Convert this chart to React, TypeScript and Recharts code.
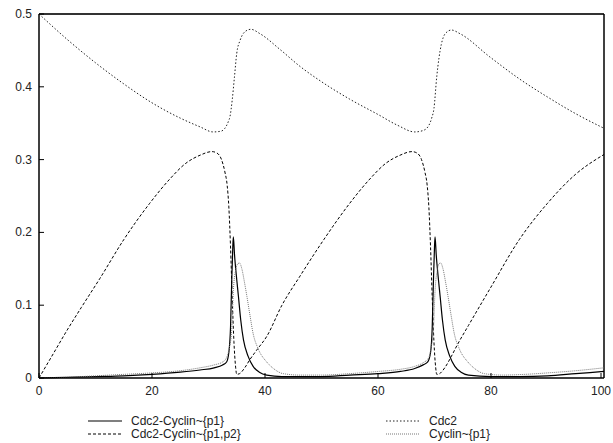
import React from "react";
import { LineChart, Line, XAxis, YAxis, ReferenceLine } from "recharts";

// time points and values
const pp1Time = [
  0, 5, 10, 15, 20, 25, 28.5, 31, 32.5, 33.2, 33.6, 33.9, 34.1, 34.3, 34.4, 34.6, 35.0, 35.3, 35.7, 36.2, 37,
  37.9, 39, 40.3, 43, 46, 50, 55, 60, 64, 66.5, 68, 68.8, 69.3, 69.6, 69.8, 70.0, 70.1, 70.3, 70.7, 71.0,
  71.4, 71.9, 72.7, 73.6, 74.7, 76, 80, 85, 90, 95, 100,
];
const pp1Values = [
  0, 0.001, 0.002, 0.003, 0.005, 0.008, 0.011, 0.014, 0.018, 0.022, 0.035, 0.07, 0.13, 0.18, 0.194, 0.17,
  0.135, 0.112, 0.08, 0.052, 0.03, 0.016, 0.008, 0.004, 0.002, 0.002, 0.002, 0.004, 0.006, 0.009, 0.013,
  0.018, 0.022, 0.035, 0.07, 0.13, 0.18, 0.194, 0.17, 0.135, 0.112, 0.08, 0.052, 0.03, 0.016, 0.008, 0.004,
  0.002, 0.002, 0.003, 0.006, 0.009,
];

const pp12Time = [
  0, 2.5, 5, 7.5, 10.8, 15, 19.6, 23, 26, 28.5, 30.6, 31.5, 32.3, 32.9, 33.3, 33.6, 33.9, 34.2, 34.5, 34.8,
  35.0, 35.5, 36.5, 37.3, 38.5, 40.3, 43, 46.2, 50.4, 55, 58.4, 61.4, 63.9, 66.0, 66.9, 67.7, 68.3, 68.7,
  69.0, 69.3, 69.6, 69.9, 70.2, 70.4, 70.9, 71.9, 73, 74, 76, 80, 85, 90, 95, 100,
];
const pp12Values = [
  0, 0.033, 0.066, 0.097, 0.137, 0.19, 0.24, 0.272, 0.295, 0.306, 0.311, 0.309, 0.3, 0.283, 0.265, 0.235,
  0.18, 0.11, 0.05, 0.015, 0.005, 0.006, 0.015, 0.025, 0.038, 0.057, 0.1, 0.14, 0.19, 0.24, 0.272, 0.295,
  0.306, 0.311, 0.309, 0.3, 0.283, 0.265, 0.235, 0.18, 0.11, 0.05, 0.015, 0.005, 0.006, 0.015, 0.03, 0.045,
  0.072, 0.125, 0.19, 0.24, 0.28, 0.307,
];

const cdc2Time = [
  0, 5, 10, 15, 20, 25, 28.5, 30.8, 32.2, 32.9, 33.5, 33.8, 34.2, 34.6, 35.0, 35.6, 36.5, 37.5, 39.1,
  42.7, 46.2, 50, 55, 60, 63.5, 66.5, 68, 69, 69.5, 69.9, 70.4, 70.8, 71.2, 71.9, 73.0, 74.5, 79.8, 85, 90,
  95, 100,
];
const cdc2Values = [
  0.5, 0.465, 0.433, 0.404, 0.378, 0.357, 0.345, 0.338, 0.339, 0.343, 0.352, 0.359, 0.382, 0.414, 0.446,
  0.464, 0.476, 0.479, 0.473, 0.451, 0.428, 0.407, 0.383, 0.362, 0.347, 0.338, 0.34, 0.347, 0.357, 0.37,
  0.414, 0.44, 0.458, 0.473, 0.478, 0.473, 0.441, 0.411, 0.386, 0.363, 0.343,
];

const cyclinTime = [
  0, 5, 10, 15, 20, 25, 28.5, 31, 32.5, 33.2, 33.7, 34.1, 34.4, 34.8, 35.2, 35.5, 35.9, 36.4, 36.8, 37.3,
  37.9, 38.8, 40.3, 41.5, 43.2, 46.2, 50, 55, 60, 64, 66.5, 68, 69, 69.4, 69.8, 70.1, 70.5, 70.8, 71.1,
  71.5, 72, 72.4, 72.9, 73.5, 74.4, 75.9, 77.1, 78.8, 82, 86, 90, 95, 100,
];
const cyclinValues = [
  0, 0.001, 0.003, 0.005, 0.007, 0.01, 0.014, 0.018, 0.022, 0.028, 0.042, 0.065, 0.12, 0.148, 0.157, 0.158,
  0.15, 0.13, 0.112, 0.088, 0.061, 0.04, 0.022, 0.013, 0.006, 0.004, 0.004, 0.006, 0.009, 0.012, 0.016,
  0.021, 0.028, 0.042, 0.065, 0.12, 0.148, 0.157, 0.158, 0.15, 0.13, 0.112, 0.088, 0.061, 0.04, 0.022,
  0.013, 0.006, 0.004, 0.005, 0.007, 0.01, 0.014,
];

const xTicks = [0, 20, 40, 60, 80, 100];
const yTicks = [0, 0.1, 0.2, 0.3, 0.4, 0.5];

const toPoints = (times: number[], values: number[]) =>
  times.map((t, i) => ({ t, v: values[i] }));

const FONT = "Liberation Sans, Arial, Helvetica, sans-serif";

const series = [
  { name: "Cdc2-Cyclin~{p1}", data: toPoints(pp1Time, pp1Values), color: "#000", dash: undefined, width: 1.2 },
  { name: "Cdc2-Cyclin~{p1,p2}", data: toPoints(pp12Time, pp12Values), color: "#000", dash: "3 2", width: 1 },
  { name: "Cdc2", data: toPoints(cdc2Time, cdc2Values), color: "#222", dash: "1.5 2", width: 1 },
  { name: "Cyclin~{p1}", data: toPoints(cyclinTime, cyclinValues), color: "#777", dash: "1 1", width: 1 },
];

const XTick = (props: any) => {
  const { x, y, payload } = props;
  return (
    <g>
      <line x1={x} y1={y} x2={x} y2={y - 5} stroke="#000" strokeWidth={1} />
      <text x={x} y={y + 17} textAnchor="middle" fontFamily={FONT} fontSize={12} fill="#222">
        {payload.value}
      </text>
    </g>
  );
};

const YTick = (props: any) => {
  const { x, y, payload } = props;
  return (
    <g>
      <line x1={x} y1={y} x2={x + 5} y2={y} stroke="#000" strokeWidth={1} />
      <text x={x - 7} y={y + 4} textAnchor="end" fontFamily={FONT} fontSize={12} fill="#222">
        {payload.value}
      </text>
    </g>
  );
};

const legendPos = [
  { x: 88, y: 421 },
  { x: 88, y: 434 },
  { x: 386, y: 421 },
  { x: 386, y: 434 },
];

export default function App() {
  return (
    <div style={{ position: "absolute", left: 0, top: 0, width: 613, height: 443, background: "#fff" }}>
      <LineChart width={613} height={443} margin={{ top: 14, right: 9, left: 0, bottom: 0 }}>
        <XAxis
          type="number"
          dataKey="t"
          domain={[0, 100]}
          ticks={xTicks}
          allowDataOverflow
          height={65}
          tickSize={0}
          tickMargin={0}
          tickLine={false}
          axisLine={{ stroke: "#000", strokeWidth: 1.5 }}
          tick={<XTick />}
        />
        <YAxis
          type="number"
          domain={[0, 0.5]}
          ticks={yTicks}
          width={39}
          tickSize={0}
          tickMargin={0}
          tickLine={false}
          axisLine={{ stroke: "#000", strokeWidth: 1.5 }}
          tick={<YTick />}
        />
        <ReferenceLine y={0.5} stroke="#333" strokeWidth={2} ifOverflow="extendDomain" />
        <ReferenceLine x={100} stroke="#000" strokeWidth={1.5} ifOverflow="extendDomain" />
        {series.map((s) => (
          <Line
            key={s.name}
            data={s.data}
            dataKey="v"
            name={s.name}
            type="monotone"
            stroke={s.color}
            strokeWidth={s.width}
            strokeDasharray={s.dash}
            dot={false}
            activeDot={false}
            isAnimationActive={false}
          />
        ))}
      </LineChart>
      <svg width={613} height={443} style={{ position: "absolute", left: 0, top: 0, pointerEvents: "none" }}>
        {series.map((s, i) => (
          <g key={s.name}>
            <line
              x1={legendPos[i].x}
              y1={legendPos[i].y}
              x2={legendPos[i].x + 34}
              y2={legendPos[i].y}
              stroke={s.color}
              strokeWidth={s.width}
              strokeDasharray={s.dash}
            />
            <text
              x={legendPos[i].x + 43}
              y={legendPos[i].y + 4}
              fontFamily={FONT}
              fontSize={12}
              fill="#222"
            >
              {s.name}
            </text>
          </g>
        ))}
      </svg>
    </div>
  );
}
